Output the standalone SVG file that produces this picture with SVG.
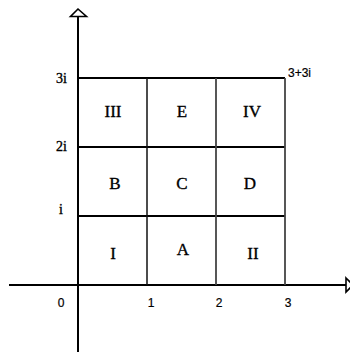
<svg xmlns="http://www.w3.org/2000/svg" width="350" height="352" viewBox="0 0 350 352">
<style>
.ax{stroke:#000;stroke-width:2;fill:none}
.hl{stroke:#000;stroke-width:2.2}
.vl{stroke:#444;stroke-width:1.8}
.vl1{stroke:#111;stroke-width:1.5}
.arr{fill:#fff;stroke:#000;stroke-width:1.6;stroke-linejoin:miter}
.rn{font-family:"Liberation Serif",serif;font-size:17px;text-anchor:middle;fill:#000;stroke:#000;stroke-width:0.35}
.yl{font-family:"Liberation Serif",serif;font-size:14px;text-anchor:end;fill:#000;stroke:#000;stroke-width:0.35}
.xl{font-family:"Liberation Sans",sans-serif;font-size:12px;text-anchor:middle;fill:#000;stroke:#000;stroke-width:0.2}
</style>
<rect width="350" height="352" fill="#fff"/>
<g id="connectors">
<line class="ax" x1="78" y1="14" x2="78" y2="352"/>
<line class="ax" x1="9" y1="285" x2="348" y2="285"/>
<polygon class="arr" points="78,9 70.5,16.5 86.5,16.5"/>
<polygon class="arr" points="346,278 353,285 346,292"/>
<line class="hl" x1="78" y1="78" x2="285" y2="78"/>
<line class="hl" x1="78" y1="147" x2="285" y2="147"/>
<line class="hl" x1="78" y1="216" x2="285" y2="216"/>
<line class="vl1" x1="147" y1="78" x2="147" y2="285"/>
<line class="vl" x1="216" y1="78" x2="216" y2="285"/>
<line class="vl" x1="285" y1="78" x2="285" y2="285"/>
</g>
<g id="cell-III"><text class="rn" x="113" y="117">III</text></g>
<g id="cell-E"><text class="rn" x="182" y="117">E</text></g>
<g id="cell-IV"><text class="rn" x="252" y="117">IV</text></g>
<g id="cell-B"><text class="rn" x="115" y="189">B</text></g>
<g id="cell-C"><text class="rn" x="182" y="189">C</text></g>
<g id="cell-D"><text class="rn" x="250" y="189">D</text></g>
<g id="cell-I"><text class="rn" x="113" y="259">I</text></g>
<g id="cell-A"><text class="rn" x="183" y="255">A</text></g>
<g id="cell-II"><text class="rn" x="253" y="259">II</text></g>
<g id="axis-labels">
<text class="yl" x="67" y="83">3i</text>
<text class="yl" x="67" y="151">2i</text>
<text class="yl" x="63" y="214">i</text>
<text class="xl" x="61" y="307">0</text>
<text class="xl" x="151" y="307">1</text>
<text class="xl" x="219" y="307">2</text>
<text class="xl" x="288" y="307">3</text>
<text style="font-family:'Liberation Sans',sans-serif;font-size:12px;fill:#000;stroke:#000;stroke-width:0.2" x="288" y="77">3+3i</text>
</g>
</svg>
